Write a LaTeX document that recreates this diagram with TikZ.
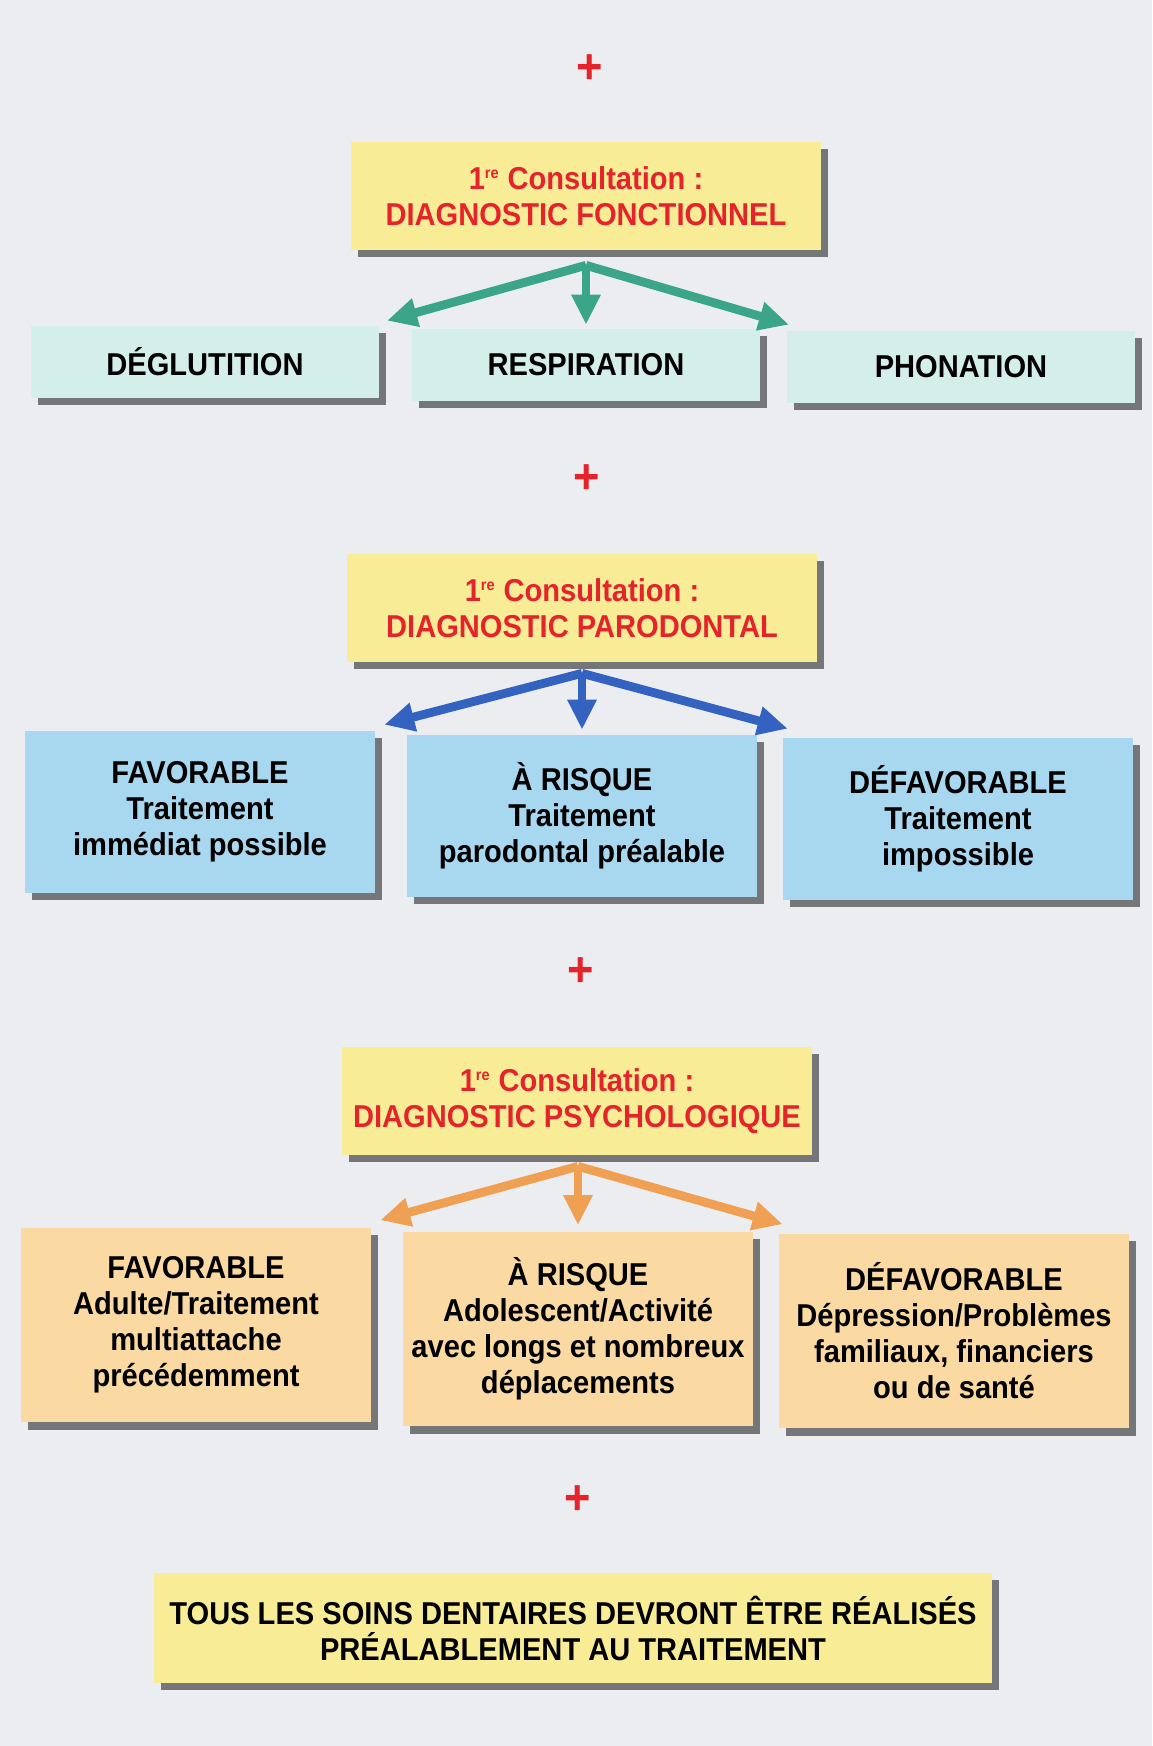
\documentclass[tikz,border=0pt]{standalone}
\usepackage{fontspec}
\setmainfont{Liberation Sans}[FakeStretch=0.92]
\usepackage{tikz}
\usetikzlibrary{arrows.meta,positioning,calc,shadows}
\definecolor{fond}{RGB}{236,237,240}
\definecolor{jaune}{RGB}{248,237,150}
\definecolor{cyanpale}{RGB}{212,238,234}
\definecolor{bleuclair}{RGB}{168,215,240}
\definecolor{orangepale}{RGB}{250,218,162}
\definecolor{rouge}{RGB}{228,35,43}
\definecolor{vert}{RGB}{58,165,136}
\definecolor{bleu}{RGB}{52,98,192}
\definecolor{orange}{RGB}{240,160,82}
\tikzstyle{boite}=[rectangle,inner sep=2pt,align=center,font=\fontsize{18}{20.5}\selectfont\bfseries,drop shadow={shadow xshift=4pt,shadow yshift=-4pt,opacity=.5,fill=black}]
\tikzstyle{titre}=[boite,fill=jaune,text=rouge,minimum width=9.4cm,minimum height=2.16cm]
\tikzstyle{fonction}=[boite,fill=cyanpale,minimum width=6.95cm,minimum height=1.44cm]
\tikzstyle{paro}=[boite,fill=bleuclair,minimum width=7cm,minimum height=3.24cm]
\tikzstyle{psycho}=[boite,fill=orangepale,minimum width=7cm,minimum height=3.9cm]
\tikzstyle{signe}=[text=rouge,font=\fontsize{28}{28}\selectfont\bfseries]
\tikzstyle{fleche}=[line width=5pt,-{Triangle[length=0.6cm,width=0.55cm]},line join=miter]

\begin{document}
\begin{tikzpicture}[x=0.02cm,y=-0.02cm]
\fill[fond] (0,0) rectangle (1152,1746);
% diagnostic fonctionnel
\node[signe] (pl1) at (590,69) {+};
\node[titre] (fonc) at (586,196) {1\textsuperscript{\small re} Consultation :\\DIAGNOSTIC FONCTIONNEL};
\node[fonction] (deglu) at (205,362) {DÉGLUTITION};
\node[fonction] (respi) at (586,365) {RESPIRATION};
\node[fonction] (phona) at (961,367) {PHONATION};
\coordinate (f0) at ($(fonc.south -| respi.north)+(0,15)$);
\draw[fleche,vert] (f0) -- ($(deglu.north east)+(8,-5)$);
\draw[fleche,vert] (f0) -- ($(respi.north)+(0,-4)$);
\draw[fleche,vert] (f0) -- ($(phona.north west)+(2,-6)$);
% diagnostic parodontal
\node[signe] (pl2) at (587,479) {+};
\node[titre] (parod) at (582,608) {1\textsuperscript{\small re} Consultation :\\DIAGNOSTIC PARODONTAL};
\node[paro] (pfav) at (200,812) {FAVORABLE\\Traitement\\immédiat possible};
\node[paro] (prisk) at (582,816) {À RISQUE\\Traitement\\parodontal préalable};
\node[paro] (pdef) at (958,819) {DÉFAVORABLE\\Traitement\\impossible};
\coordinate (p0) at ($(parod.south -| prisk.north)+(0,11)$);
\draw[fleche,bleu] (p0) -- ($(pfav.north east)+(9,-6)$);
\draw[fleche,bleu] (p0) -- ($(prisk.north)+(0,-5)$);
\draw[fleche,bleu] (p0) -- ($(pdef.north west)+(5,-9)$);
% diagnostic psychologique
\node[signe] (pl3) at (581,972) {+};
\node[titre] (psy) at (577,1101) {1\textsuperscript{\small re} Consultation :\\DIAGNOSTIC PSYCHOLOGIQUE};
\node[psycho] (sfav) at (196,1325) {FAVORABLE\\Adulte/Traitement\\multiattache\\précédemment};
\node[psycho] (srisk) at (578,1329) {À RISQUE\\Adolescent/Activité\\avec longs et nombreux\\déplacements};
\node[psycho] (sdef) at (954,1331) {DÉFAVORABLE\\Dépression/Problèmes\\familiaux, financiers\\ou de santé};
\coordinate (s0) at ($(psy.south -| srisk.north)+(0,11)$);
\draw[fleche,orange] (s0) -- ($(sfav.north east)+(9,-7)$);
\draw[fleche,orange] (s0) -- ($(srisk.north)+(0,-6)$);
\draw[fleche,orange] (s0) -- ($(sdef.north west)+(4,-9)$);
% soins
\node[signe] (pl4) at (578,1500) {+};
\node[boite,fill=jaune,minimum width=16.76cm,minimum height=2.2cm] (soins) at (573,1628) {TOUS LES SOINS DENTAIRES DEVRONT ÊTRE RÉALISÉS\\PRÉALABLEMENT AU TRAITEMENT};
\end{tikzpicture}
\end{document}
